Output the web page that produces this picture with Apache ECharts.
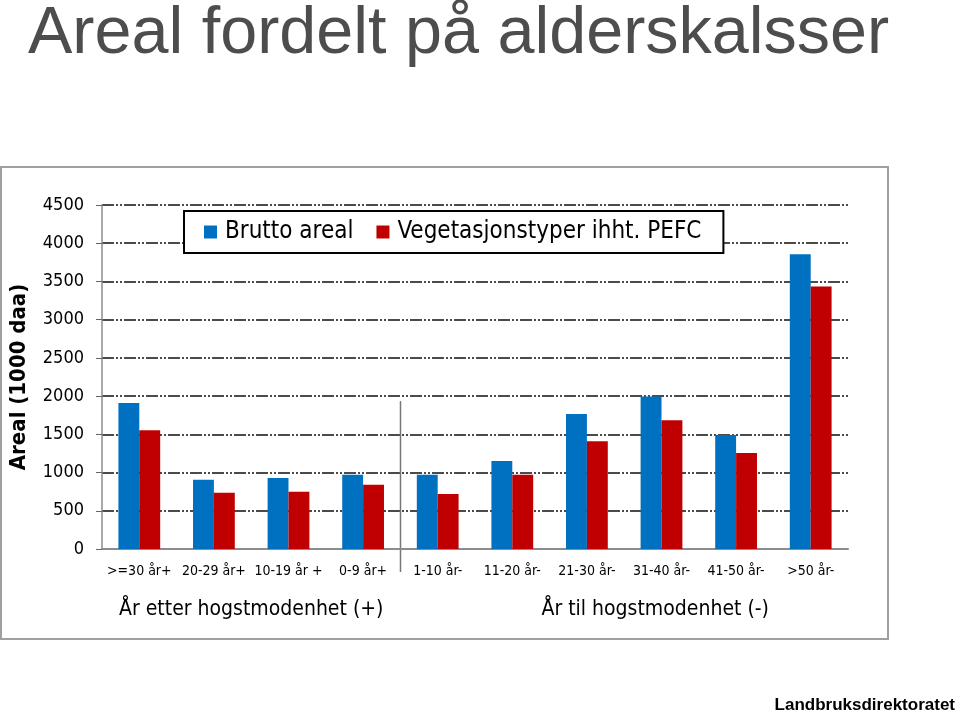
<!DOCTYPE html>
<html>
<head>
<meta charset="utf-8">
<script src="https://cdn.jsdelivr.net/npm/echarts@6/dist/echarts.min.js"></script>
<style>
  html, body { margin: 0; padding: 0; background: #fff; }
  #main { width: 960px; height: 718px; }
</style>
</head>
<body>
<div id="main"></div>
<script>
// categories / values
var categories = ['>=30 år+', '20-29 år+', '10-19 år +', '0-9 år+', '1-10 år-', '11-20 år-', '21-30 år-', '31-40 år-', '41-50 år-', '>50 år-'];
var bruttoAreal = [1910, 905, 930, 970, 970, 1150, 1765, 1995, 1490, 3855];
var pefcAreal = [1555, 735, 750, 840, 720, 970, 1410, 1685, 1255, 3435];
var yTicks = [0, 500, 1000, 1500, 2000, 2500, 3000, 3500, 4000, 4500];
var groupLabels = ['År etter hogstmodenhet (+)', 'År til hogstmodenhet (-)'];

var chartFont = 'DejaVu Sans Condensed';
var el = document.getElementById('main');
var chart = echarts.init(el);

var option = {
  animation: false,
  backgroundColor: '#fff',
  grid: { left: 101, right: 112, top: 205, bottom: 169 },
  legend: {
    left: 184,
    top: 211,
    orient: 'horizontal',
    backgroundColor: '#fff',
    borderColor: '#000',
    borderWidth: 2,
    padding: [9, 22, 9, 20],
    itemGap: 23,
    itemWidth: 13,
    itemHeight: 13,
    icon: 'rect',
    textStyle: { fontFamily: chartFont, fontSize: 24, color: '#000', padding: [0, 0, 0, 3] },
    data: ['Brutto areal', 'Vegetasjonstyper ihht. PEFC']
  },
  xAxis: {
    type: 'category',
    data: categories,
    axisLine: { lineStyle: { color: '#8c8c8c', width: 2 } },
    axisTick: { show: false },
    axisLabel: { fontFamily: chartFont, fontSize: 14, color: '#000', margin: 15, interval: 0 }
  },
  yAxis: {
    type: 'value',
    min: yTicks[0],
    max: yTicks[yTicks.length - 1],
    interval: 500,
    name: 'Areal (1000 daa)',
    nameLocation: 'middle',
    nameRotate: 90,
    nameGap: 72,
    nameTextStyle: { fontFamily: chartFont, fontSize: 22, fontWeight: 'bold', color: '#000' },
    axisLine: { show: true, lineStyle: { color: '#8c8c8c', width: 1.5 } },
    axisTick: { show: true, length: 6, lineStyle: { color: '#666' } },
    axisLabel: {
      fontFamily: chartFont, fontSize: 18, color: '#000', margin: 18,
      formatter: function (v) { return String(v); }
    },
    splitLine: { lineStyle: { color: '#111', width: 1.5, type: [12, 2, 2, 2, 2, 2] } }
  },
  series: [
    {
      name: 'Brutto areal',
      type: 'bar',
      data: bruttoAreal,
      barGap: '0%',
      barCategoryGap: '44%',
      itemStyle: { color: '#0070C0' }
    },
    {
      name: 'Vegetasjonstyper ihht. PEFC',
      type: 'bar',
      data: pefcAreal,
      itemStyle: { color: '#C00000' }
    }
  ]
};

chart.setOption(option);

// separator between the two groups, placed from the category scale
var c3 = chart.convertToPixel({ xAxisIndex: 0 }, 3);
var c4 = chart.convertToPixel({ xAxisIndex: 0 }, 4);
var sepX = Math.round((c3 + c4) / 2) + 0.5;
var top2000 = chart.convertToPixel({ yAxisIndex: 0 }, 2000);
var c0 = chart.convertToPixel({ xAxisIndex: 0 }, 0);
var c9 = chart.convertToPixel({ xAxisIndex: 0 }, 9);
var zeroY = chart.convertToPixel({ yAxisIndex: 0 }, 0);
var leftCenter = ((c0 - (c4 - c3) / 2) + sepX) / 2;
var rightCenter = (sepX + c9 + (c4 - c3) / 2) / 2 + 31;

chart.setOption({
  graphic: [
    {
      type: 'text', left: 28, top: 1, z: 10,
      style: {
        text: 'Areal fordelt på alderskalsser',
        fontFamily: 'Liberation Sans', fontSize: 66.5, fill: '#4d4d4d',
        verticalAlign: 'middle'
      }
    },
    {
      type: 'rect', z: -1, silent: true,
      shape: { x: 1, y: 167, width: 887, height: 472 },
      style: { fill: 'none', stroke: '#a0a0a0', lineWidth: 2 }
    },
    {
      type: 'line', silent: true,
      shape: { x1: sepX, y1: top2000 + 5, x2: sepX, y2: zeroY + 23 },
      style: { stroke: '#777', lineWidth: 1.5 }
    },
    {
      type: 'text', x: leftCenter, y: 610,
      style: {
        text: groupLabels[0], fontFamily: chartFont, fontSize: 21, fill: '#000',
        align: 'center', verticalAlign: 'middle'
      }
    },
    {
      type: 'text', x: rightCenter, y: 610,
      style: {
        text: groupLabels[1], fontFamily: chartFont, fontSize: 21, fill: '#000',
        align: 'center', verticalAlign: 'middle'
      }
    },
    {
      type: 'text', x: 955, y: 705,
      style: {
        text: 'Landbruksdirektoratet', fontFamily: 'Liberation Sans', fontWeight: 'bold',
        fontSize: 17, fill: '#000', align: 'right', verticalAlign: 'middle'
      }
    }
  ]
});
</script>
</body>
</html>
